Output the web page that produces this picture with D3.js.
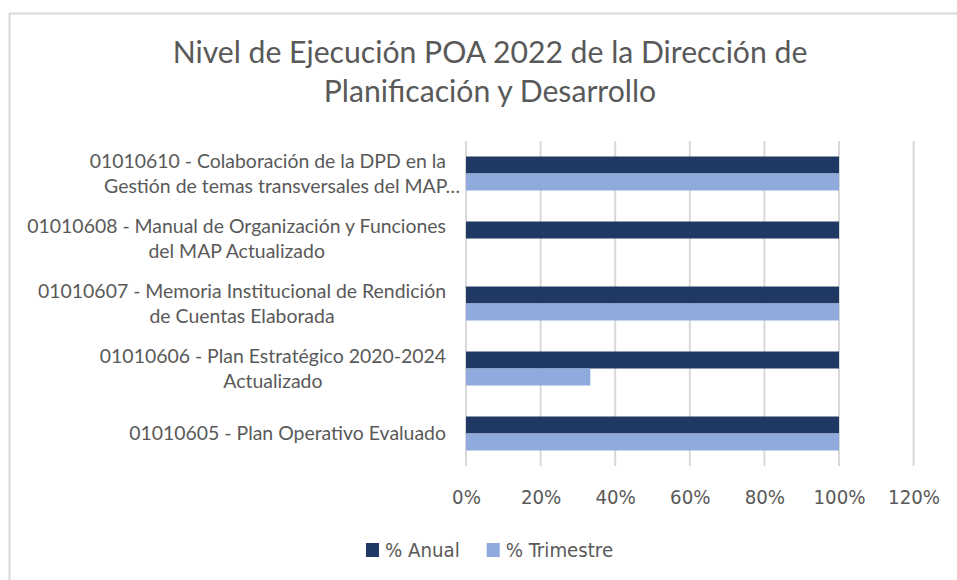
<!DOCTYPE html>
<html><head><meta charset="utf-8">
<script src="https://cdn.jsdelivr.net/npm/d3@7/dist/d3.min.js"></script>
<style>html,body{margin:0;padding:0;background:#fff;}svg{display:block;}</style>
</head><body>
<svg id="c" width="957" height="580"></svg>
<script>
const titleLines = ["Nivel de Ejecución POA 2022 de la Dirección de", "Planificación y Desarrollo"];
const categories = ["01010610", "01010608", "01010607", "01010606", "01010605"];
const categoryLabels = [
  ["01010610 - Colaboración de la DPD en la", "Gestión de temas transversales del MAP…"],
  ["01010608 - Manual de Organización y Funciones", "del MAP Actualizado"],
  ["01010607 - Memoria Institucional de Rendición", "de Cuentas Elaborada"],
  ["01010606 - Plan Estratégico 2020-2024", "Actualizado"],
  ["01010605 - Plan Operativo Evaluado"]
];
const seriesNames = ["% Anual", "% Trimestre"];
const anual = [1, 1, 1, 1, 1];
const trimestre = [1, 0, 1, 0.3333, 1];
const tickValues = [0, 0.2, 0.4, 0.6, 0.8, 1.0, 1.2];
const colors = ["#203864", "#8FAADC"];

const svg = d3.select("#c");
const textColor = "#595959";
const labelFont = "Lato, 'Open Sans', sans-serif";
const axisFont = "'Liberation Sans Narrow', 'DejaVu Sans Condensed', 'Liberation Sans', sans-serif";

// outer border
svg.append("rect").attr("x", 9.5).attr("y", 13.5).attr("width", 1000).attr("height", 700)
  .attr("fill", "none").attr("stroke", "#D9D9D9").attr("stroke-width", 2);

// title
const title = svg.append("g");
titleLines.forEach((t, i) => {
  title.append("text").attr("x", 490).attr("y", 63 + i * 39)
    .attr("text-anchor", "middle").attr("fill", textColor)
    .style("font-family", labelFont).style("font-size", "30px").text(t);
});
(function(){
  const n = title.select("text").node();
  const w = n.getComputedTextLength();
  title.selectAll("text").style("font-size", (30 * 635 / w) + "px");
})();

const plotTop = 141, plotBottom = 466;
const x = d3.scaleLinear().domain([0, 1.2]).range([466, 913.6]);
const y = d3.scaleBand().domain(categories).range([plotTop, plotBottom])
  .paddingInner(0.477).paddingOuter(0.2385);
const ySub = d3.scaleBand().domain(seriesNames).range([0, y.bandwidth()]);

// gridlines
svg.append("g").selectAll("line").data(tickValues).join("line")
  .attr("x1", d => x(d)).attr("x2", d => x(d))
  .attr("y1", plotTop).attr("y2", plotBottom)
  .attr("stroke", "#D9D9D9").attr("stroke-width", 2);

// bars
const data = categories.map((c, i) => ({c, vals: [anual[i], trimestre[i]]}));
const groups = svg.append("g").selectAll("g").data(data).join("g")
  .attr("transform", d => `translate(0,${y(d.c)})`);
groups.selectAll("rect").data(d => d.vals.map((v, j) => ({v, s: seriesNames[j], j})))
  .join("rect")
  .attr("x", x(0)).attr("y", d => ySub(d.s))
  .attr("width", d => d.v ? x(d.v) - x(0) : 0)
  .attr("height", ySub.bandwidth())
  .attr("fill", d => colors[d.j]);

// x axis tick labels
const xAxis = d3.axisBottom(x).tickValues(tickValues).tickFormat(d3.format(".0%")).tickSize(0).tickPadding(0);
const ax = svg.append("g").attr("transform", `translate(0,${490})`).call(xAxis);
ax.select(".domain").remove();
ax.selectAll("text").attr("fill", textColor).attr("dy", "0.32em").attr("y", 8)
  .style("font-family", axisFont).style("font-size", "24px");
let axisFs = 24;
(function(){
  const n = ax.selectAll("text").filter(function(){ return this.textContent === "100%"; }).node();
  axisFs = 24 * 52 / n.getComputedTextLength();
  ax.selectAll("text").style("font-size", axisFs + "px");
})();

// category labels
const catG = svg.append("g");
const labelRight = 446;
const lineH = 25;
categoryLabels.forEach((lines, i) => {
  const cy = y(categories[i]) + y.bandwidth() / 2;
  const g = catG.append("g");
  const texts = lines.map((t, k) => g.append("text")
    .attr("y", cy + (k - (lines.length - 1) / 2) * lineH)
    .attr("dy", "0.35em").attr("text-anchor", "middle")
    .attr("fill", textColor).style("font-family", labelFont).style("font-size", "21px").text(t));
  g.node().__texts = texts;
});
(function(){
  const ref = catG.selectAll("text").filter(function(){ return this.textContent.startsWith("01010608"); }).node();
  const fs = 21 * 419 / ref.getComputedTextLength();
  catG.selectAll("text").style("font-size", fs + "px");
  catG.selectAll("g").each(function(){
    const texts = this.__texts;
    const wFirst = texts[0].node().getComputedTextLength();
    const center = labelRight - wFirst / 2;
    texts.forEach((t, k) => {
      if (t.text().endsWith("…")) {
        t.attr("text-anchor", "end").attr("x", labelRight + 14);
      } else {
        t.attr("x", center);
      }
    });
  });
})();

// legend
const legend = svg.append("g").attr("transform", "translate(366,550)");
const legX = [0, 120.7];
seriesNames.forEach((s, i) => {
  legend.append("rect").attr("x", legX[i]).attr("y", -7).attr("width", 13).attr("height", 14).attr("fill", colors[i]);
  legend.append("text").attr("x", legX[i] + 19).attr("y", 0).attr("dy", "0.35em")
    .attr("fill", textColor).style("font-family", axisFont).style("font-size", axisFs + "px").text(s);
});
</script>
</body></html>
